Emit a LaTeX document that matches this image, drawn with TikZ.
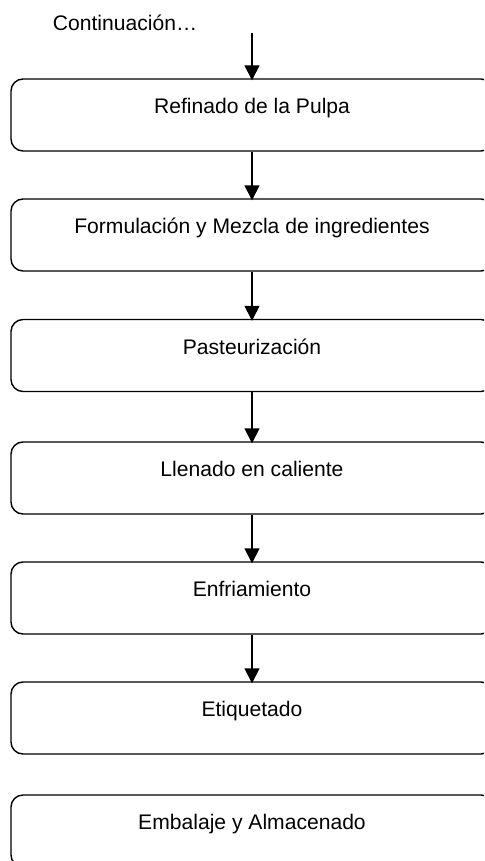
\documentclass[tikz,border=0pt]{standalone}
\usepackage{fontspec}
\setmainfont{Liberation Sans}
\usetikzlibrary{arrows.meta}
\begin{document}
\begin{tikzpicture}[x=1pt,y=-1pt,
  stepbox/.style={draw=black, line width=1.4pt, rounded corners=12pt,
    minimum width=482pt, minimum height=72pt, inner sep=0pt,
    text height=15.1pt, text depth=18.1pt,
    font=\fontsize{21.1}{25}\selectfont},
  arr/.style={line width=1.4pt, -{Triangle[length=15pt,width=15pt]}, shorten >=-2pt}]
\useasboundingbox (0,0) rectangle (484,861);
\clip (0,0) rectangle (484,861);
\node[anchor=base, font=\fontsize{21.1}{25}\selectfont] (cont) at (125,30.5) {Continuación…};
\coordinate (s) at (252,33);
\node[stepbox] (b1) at (252,115) {Refinado de la Pulpa};
\node[stepbox] (b2) at (252,235) {Formulación y Mezcla de ingredientes};
\node[stepbox] (b3) at (252,355.5) {Pasteurización};
\node[stepbox] (b4) at (252,478) {Llenado en caliente};
\node[stepbox] (b5) at (252,598) {Enfriamiento};
\node[stepbox] (b6) at (252,718) {Etiquetado};
\node[stepbox] (b7) at (252,831) {Embalaje y Almacenado};
\draw[arr] (s) -- (b1.north);
\draw[arr] (b1.south) -- (b2.north);
\draw[arr] (b2.south) -- (b3.north);
\draw[arr] (b3.south) -- (b4.north);
\draw[arr] (b4.south) -- (b5.north);
\draw[arr] (b5.south) -- (b6.north);
\end{tikzpicture}
\end{document}
